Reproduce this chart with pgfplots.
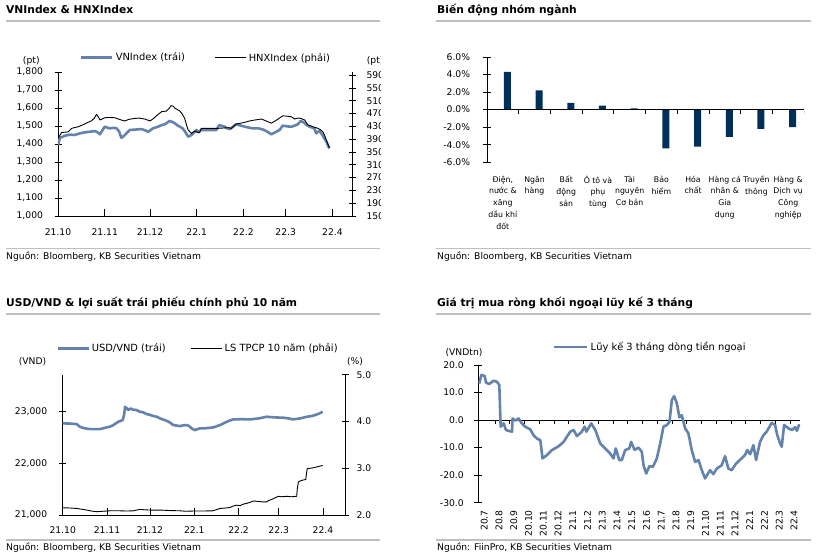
\documentclass[border=0pt]{standalone}
\usepackage{fontspec}
\setmainfont{DejaVu Sans}
\usepackage{pgfplots}
\pgfplotsset{compat=1.18}
\definecolor{vnblue}{RGB}{99,131,172}
\definecolor{navy}{RGB}{0,48,90}
\definecolor{rulegray}{RGB}{191,191,191}
\newcommand\tfont{\fontsize{10.7}{12.8}\selectfont\bfseries}
\newcommand\sfont{\fontsize{9.2}{11}\selectfont}
\newcommand\lfont{\fontsize{9.9}{12}\selectfont}
\pgfplotsset{
  base/.style={scale only axis, anchor=south west,
    /pgf/number format/assume math mode=true,
    tick label style={font=\sfont},
    axis line style={black, line width=0.8pt},
    every tick/.append style={black, line width=0.8pt},
  },
}
\begin{document}
\begin{tikzpicture}[x=1pt,y=1pt]
\useasboundingbox (0,0) rectangle (821,558);
% ---------- Panel 1 ----------
\begin{scope}
\clip (0,0) rectangle (380,558);
\node[anchor=base west, inner sep=0pt, font=\tfont] at (6,544) {VNIndex \& HNXIndex};
\draw[rulegray, line width=1.2pt] (6,537) -- (380,537);
\draw[rulegray, line width=1.2pt] (6,309.7) -- (380,309.7);
\node[anchor=base west, inner sep=0pt, font=\sfont] at (6,298.7) {Nguồn: Bloomberg, KB Securities Vietnam};
\node[anchor=base, inner sep=0pt, font=\sfont] at (31.3,494) {(pt)};
\node[anchor=base west, inner sep=0pt, font=\sfont] at (366.7,494) {(pt)};
\begin{axis}[base, at={(58pt,342pt)}, width=294pt, height=144pt,
  xmin=0, xmax=195, ymin=1000, ymax=1800,
  axis x line*=bottom, axis y line*=left,
  tick align=inside, major tick length=7pt,
  every major y tick/.append style={xshift=-3.5pt},
  xtick={0,31,61,92,123,151,182},
  xticklabels={21.10,21.11,21.12,22.1,22.2,22.3,22.4},
  xticklabel style={yshift=-9pt},
  ytick={1000,1100,...,1800}, scaled y ticks=false,
  yticklabel style={/pgf/number format/1000 sep={,}, xshift=-11.5pt},
  legend style={draw=none, fill=none, inner sep=0pt, font=\lfont,
    at={(0.0748,1.099)}, anchor=west, legend columns=2,
    /tikz/every even column/.append style={column sep=28pt}},
  legend image code/.code={\draw[#1] (0pt,0pt) -- (31pt,0pt);},
]
\addplot[vnblue, line width=2.6pt, line join=round] table {
0 1394
1.3 1435
3 1440
4.6 1446
8 1452
11 1450
14 1458
18 1465
21 1468
24.5 1472
26 1466
27.8 1454
29 1470
31 1496
33 1490
34.4 1487
37 1490
38.9 1487
40.5 1470
42 1435
43 1440
44.4 1450
46 1465
47.7 1478
51 1480
55.4 1483
58 1475
59.8 1468
61.5 1478
63 1487
66 1495
68.7 1505
71 1510
74 1528
76 1522
77.5 1515
79 1505
80.8 1496
82.5 1488
84 1472
85.3 1455
86.3 1441
87.5 1445
88.5 1450
90 1462
91.8 1478
93 1465
95 1478
100 1478
105 1478
107 1505
109 1500
110.6 1496
112 1488
114 1483
116 1495
118 1509
121 1503
124 1496
126 1492
129 1487
133 1487
136 1480
138 1472
140 1462
141.5 1454
144 1465
147 1478
149 1502
152 1498
154.8 1496
157 1502
159 1509
161 1528
162.5 1522
163.6 1515
165 1505
167 1496
170 1487
171.3 1459
172.5 1468
173.5 1472
175.7 1446
177 1425
178 1413
179 1392
180 1376
};
\addlegendentry{VNIndex (trái)}
\addlegendimage{black, line width=0.9pt}
\addlegendentry{HNXIndex (phải)}
\end{axis}
\begin{axis}[base, at={(58pt,342pt)}, width=294pt, height=144pt,
  xmin=0, xmax=195, ymin=150, ymax=600,
  axis x line=none, axis y line*=right,
  tick align=inside, major tick length=7pt,
  every major y tick/.append style={xshift=3.5pt},
  ytick={150,190,...,590},
  yticklabel style={xshift=11pt},
]
\addplot[black, line width=0.9pt, line join=round] table {
0 393
1 400
2.4 411
5 412
6.8 413
9 424
13.5 429
17 436
20 443
22 447
24 455
25.6 468
27 458
27.8 450
31 457
34 458
37.7 457
40 453
42 450
44.3 447
47 452
51 455
54 456
57.6 453
61 447
64 457
66 466
68.7 476
72 478
74 488
75 495
76.5 493
77.5 487
79 483
80.8 478
82.5 468
84 455
85.2 435
86.3 419
88.5 408
90.7 416
92 412
94 411
95 424
100 424
106 424
110 425
113 426
115 424
118 437
121 440
124 443
127 447
130.5 450
135 453
138 447
141.5 440
144 447
146 453
149 463
152 462
154.8 460
157 453
159 456
161 455
163.6 450
165.8 434
167.5 432
169 429
172.4 424
174 420
175.7 413
177 400
178 387
179 375
180 363
};
\end{axis}
\end{scope}
% ---------- Panel 2 ----------
\node[anchor=base west, inner sep=0pt, font=\tfont] at (437,544) {Biến động nhóm ngành};
\draw[rulegray, line width=1.2pt] (436,537) -- (811,537);
\draw[rulegray, line width=1.2pt] (436,309.7) -- (811,309.7);
\node[anchor=base west, inner sep=0pt, font=\sfont] at (437,298.7) {Nguồn: Bloomberg, KB Securities Vietnam};
\begin{axis}[base, at={(487pt,395.7pt)}, width=317pt, height=105.3pt,
  xmin=-0.5, xmax=9.5, ymin=-6, ymax=6,
  axis y line*=left, axis x line*=bottom,
  x axis line style={draw=none},
  every major x tick/.append style={draw=none},
  tick align=center, major tick length=8pt,
  ytick={-6,-4,...,6},
  yticklabel={\pgfmathprintnumber[fixed,fixed zerofill,precision=1]{\tick}\%},
  yticklabel style={xshift=-9.4pt},
  xtick={0,...,9},
  xticklabels={{Điện,\\nước \&\\xăng\\dầu khí\\đốt},{Ngân\\hàng},{Bất\\động\\sản},{Ô tô và\\phụ\\tùng},{Tài\\nguyên\\Cơ bản},{Bảo\\hiểm},{Hóa\\chất},{Hàng cá\\nhân \&\\Gia\\dụng},{Truyền\\thông},{Hàng \&\\Dịch vụ\\Công\\nghiệp}},
  xticklabel style={font=\fontsize{7.8}{11.9}\selectfont, align=center, yshift=-6pt},
]
\addplot[ybar, bar width=7pt, bar shift=4.5pt, fill=navy, draw=none] coordinates {
(0,4.3) (1,2.2) (2,0.77) (3,0.46) (4,0.15) (5,-4.4) (6,-4.2) (7,-3.1) (8,-2.2) (9,-2.0)};
\draw[black, line width=0.8pt] (axis cs:-0.5,0) -- (axis cs:9.5,0);
\pgfplotsinvokeforeach{0.5,1.5,...,9.5}{\draw[black, line width=0.8pt] (axis cs:#1,0) -- ([yshift=-4pt]axis cs:#1,0);}
\end{axis}
% ---------- Panel 3 ----------
\node[anchor=base west, inner sep=0pt, font=\tfont] at (6,252) {USD/VND \& lợi suất trái phiếu chính phủ 10 năm};
\draw[rulegray, line width=1.2pt] (6,244) -- (380,244);
\draw[rulegray, line width=1.2pt] (6,18) -- (380,18);
\node[anchor=base west, inner sep=0pt, font=\sfont] at (6,7.3) {Nguồn: Bloomberg, KB Securities Vietnam};
\node[anchor=base, inner sep=0pt, font=\sfont] at (32.5,194) {(VND)};
\node[anchor=base, inner sep=0pt, font=\sfont] at (355,194) {(\%)};
\begin{axis}[base, at={(62.7pt,43pt)}, width=282.3pt, height=140.3pt,
  xmin=0, xmax=197.4, ymin=21000, ymax=23716,
  axis x line*=bottom, axis y line*=left,
  tick align=inside, major tick length=7pt,
  every major y tick/.append style={xshift=-3.5pt},
  xtick={0,31,61,92,123,151,182},
  xticklabels={21.10,21.11,21.12,22.1,22.2,22.3,22.4},
  xticklabel style={yshift=-8pt},
  ytick={21000,22000,23000}, scaled y ticks=false,
  yticklabel style={/pgf/number format/.cd, fixed, 1000 sep={,}, /tikz/.cd, xshift=-12pt},
  legend style={draw=none, fill=none, inner sep=0pt, font=\lfont,
    at={(-0.0237,1.188)}, anchor=west, legend columns=2,
    /tikz/every even column/.append style={column sep=23pt}},
  legend image code/.code={\draw[#1] (0pt,0pt) -- (31pt,0pt);},
]
\addplot[vnblue, line width=2.6pt, line join=round] table {
0 22774
5 22770
9.8 22760
12 22708
15 22680
19 22663
26 22663
30.8 22696
33 22710
35.4 22741
38.9 22805
42 22838
43 22950
43.6 23095
45 23060
45.9 23031
47.5 23064
49 23040
51.7 23031
54 22998
56 22990
58.7 22954
61 22940
63.4 22915
66 22900
68 22870
70 22850
72.7 22824
75 22790
77.3 22741
80 22730
82 22720
84 22735
86.7 22741
88.5 22720
90.2 22676
92.5 22644
94 22660
96 22676
100 22680
105.3 22696
110 22741
114.7 22805
117 22830
119.3 22851
125 22855
131 22851
137 22870
142.7 22902
148 22890
154.3 22883
158 22870
161 22851
166 22870
170.6 22902
174 22915
176.4 22934
179 22960
181.8 22998
};
\addlegendentry{USD/VND (trái)}
\addlegendimage{black, line width=0.9pt}
\addlegendentry{LS TPCP 10 năm (phải)}
\end{axis}
\begin{axis}[base, at={(62.7pt,43pt)}, width=282.3pt, height=140.3pt,
  xmin=0, xmax=197.4, ymin=2, ymax=5,
  axis x line=none, axis y line*=right,
  tick align=inside, major tick length=7pt,
  every major y tick/.append style={xshift=3.5pt},
  ytick={2,3,4,5},
  yticklabel style={/pgf/number format/.cd, fixed, fixed zerofill, precision=1, /tikz/.cd, xshift=8pt},
]
\addplot[black, line width=0.9pt, line join=round] table {
0 2.155
5 2.15
9.8 2.14
13 2.125
16.8 2.106
20 2.085
23.8 2.07
28 2.08
33 2.09
40 2.09
45 2.085
49.4 2.09
54 2.12
58 2.11
62 2.105
68 2.106
75 2.095
82 2.09
86 2.08
91.3 2.085
98 2.085
105 2.09
108 2.12
110 2.14
114 2.15
117 2.16
119 2.19
121.7 2.21
124 2.2
126 2.23
128.7 2.25
131 2.27
133.3 2.3
137 2.29
140 2.28
142.7 2.28
144 2.31
146 2.33
148 2.36
150.8 2.40
153 2.39
156.6 2.40
160 2.39
163.6 2.40
164 2.55
164.8 2.71
167 2.74
170 2.76
170.5 2.9
171 2.99
173 3.0
175 3.01
178 3.03
181.8 3.06
};
\end{axis}
% ---------- Panel 4 ----------
\node[anchor=base west, inner sep=0pt, font=\tfont] at (437,252) {Giá trị mua ròng khối ngoại lũy kế 3 tháng};
\draw[rulegray, line width=1.2pt] (436,244) -- (811,244);
\draw[rulegray, line width=1.2pt] (436,18) -- (811,18);
\node[anchor=base west, inner sep=0pt, font=\sfont] at (437,7.3) {Nguồn: FiinPro, KB Securities Vietnam};
\node[anchor=base, inner sep=0pt, font=\sfont] at (464,203) {(VNDtn)};
\begin{axis}[base, at={(478.3pt,55.3pt)}, width=321.7pt, height=137.7pt,
  xmin=-0.135, xmax=21.68, ymin=-30, ymax=20,
  axis y line*=left, axis x line*=bottom,
  x axis line style={draw=none},
  every major x tick/.append style={draw=none},
  tick align=center, major tick length=8pt,
  ytick={-30,-20,...,20},
  yticklabel style={/pgf/number format/.cd, fixed, fixed zerofill, precision=1, /tikz/.cd, xshift=-7pt},
  xtick={0,...,21},
  xticklabels={20.7,20.8,20.9,20.10,20.11,20.12,21.1,21.2,21.3,21.4,21.5,21.6,21.7,21.8,21.9,21.10,21.11,21.12,22.1,22.2,22.3,22.4},
  xticklabel style={rotate=90, anchor=east, yshift=-4pt},
  legend style={draw=none, fill=none, inner sep=0pt, font=\lfont,
    at={(0.232,1.131)}, anchor=west},
  legend image code/.code={\draw[#1] (0pt,0pt) -- (33pt,0pt);},
]
\draw[black, line width=0.8pt] (axis cs:-0.135,0) -- (axis cs:21.68,0);
\pgfplotsinvokeforeach{1,...,21}{\draw[black, line width=0.8pt] (axis cs:#1,0) -- ([yshift=-3.5pt]axis cs:#1,0);}
\addplot[vnblue, line width=2.6pt, line join=round] table {
-0.07 13.3
0.07 16.4
0.3 16.0
0.39 13.6
0.61 13.1
0.9 14.3
1.13 13.9
1.29 12.7
1.38 -2.4
1.58 -1.2
1.74 -3.6
1.92 -3.9
2.15 -4.2
2.19 0.6
2.37 -0.2
2.6 0.6
2.78 -1.0
3.05 -2.4
3.39 -3.4
3.61 -5.5
3.84 -6.7
4.07 -7.3
4.22 -13.9
4.52 -12.7
4.86 -10.9
5.31 -9.5
5.65 -7.9
6.1 -4.2
6.33 -3.6
6.55 -5.8
6.89 -4.2
7.07 -2.4
7.2 -4.2
7.52 -1.2
7.8 -3.6
8.13 -8.5
8.47 -10.3
8.8 -12.1
9.03 -13.9
9.19 -10.3
9.42 -14.5
9.6 -14.5
9.82 -10.9
10.1 -10.3
10.23 -7.9
10.46 -10.8
10.73 -10.0
10.95 -11.5
11.07 -16.4
11.25 -19.4
11.47 -16.7
11.7 -17.0
11.97 -13.9
12.2 -8.5
12.42 -2.4
12.65 -1.8
12.83 -0.6
12.99 7.3
13.14 8.7
13.33 6.1
13.5 1.0
13.66 1.8
13.89 -3.0
14.11 -4.8
14.34 -10.9
14.57 -15.2
14.8 -14.5
15.02 -18.2
15.24 -21.2
15.58 -18.2
15.8 -19.6
16.04 -17.6
16.37 -16.4
16.6 -13.1
16.82 -17.6
17.05 -18.2
17.34 -15.8
17.6 -14.5
17.95 -12.7
18.1 -10.9
18.3 -12.4
18.52 -9.1
18.7 -14.5
18.97 -7.9
19.2 -5.5
19.42 -4.2
19.76 -1.0
19.99 -1.8
20.14 -5.5
20.33 -8.5
20.44 -9.7
20.6 -1.8
20.9 -3.0
21.13 -3.6
21.35 -2.6
21.47 -3.9
21.63 -1.5
};
\addlegendentry{Lũy kế 3 tháng dòng tiền ngoại}
\end{axis}
\end{tikzpicture}
\end{document}
